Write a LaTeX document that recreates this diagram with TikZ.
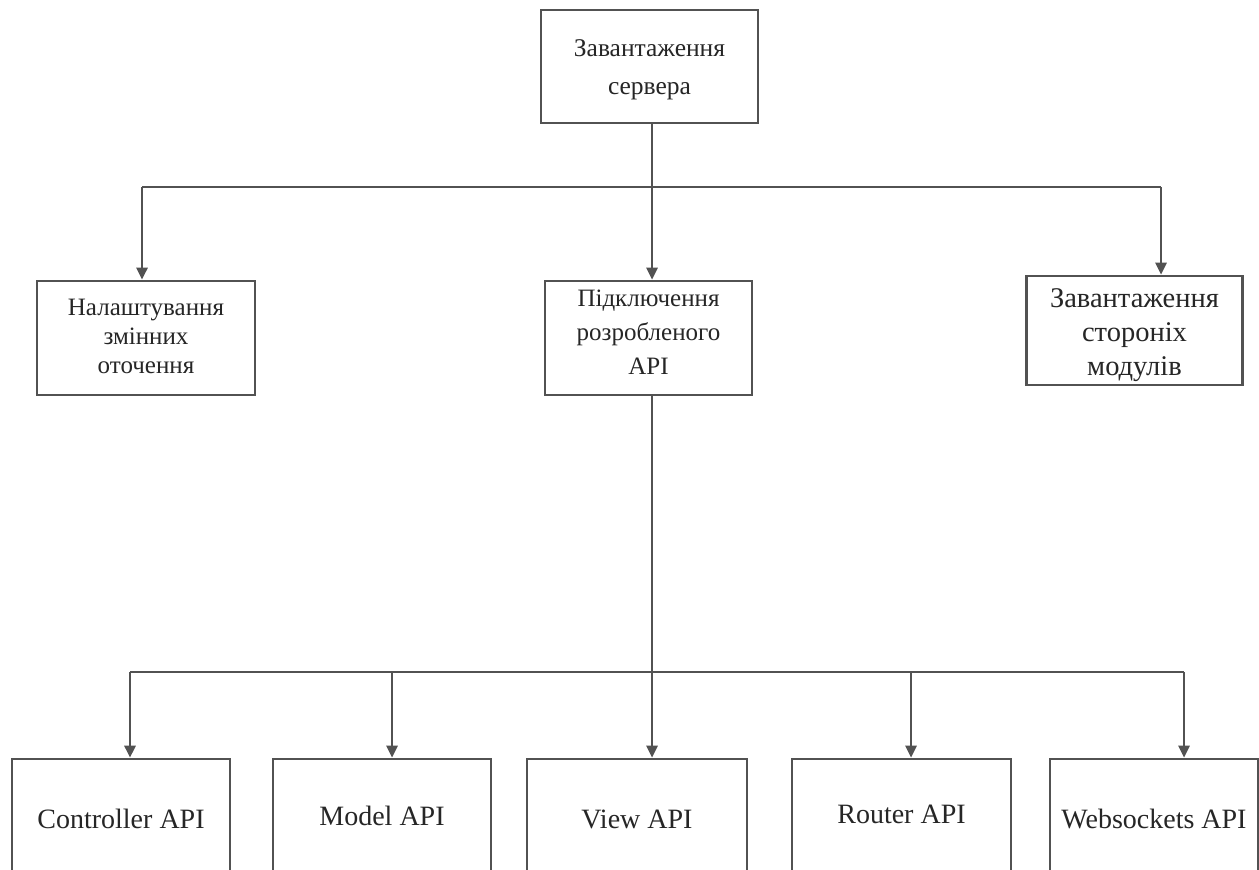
\documentclass[tikz,border=0pt]{standalone}
\usepackage{fontspec}
\setmainfont{Liberation Serif}
\usepackage{tikz}
\usetikzlibrary{positioning,calc,arrows.meta}
\tikzset{>={Triangle[length=12pt,width=11pt]}}
\tikzset{
  blok/.style={draw=black!68,line width=2.6pt,fill=white,inner sep=0pt},
  opis/.style={text=black!85,align=center,inner sep=0pt},
  link/.style={draw=black!68,line width=2.6pt},
}

\begin{document}
\begin{tikzpicture}[x=1pt,y=-1pt]
\useasboundingbox (0,0) rectangle (1259,870);
\clip (0,0) rectangle (1259,870);
\fill[white] (0,0) rectangle (1259,870);
% upper level
\node[blok,minimum width=217pt,minimum height=113pt,
  label={[opis,yshift=-3pt,font=\fontsize{25.5}{38}\selectfont]center:Завантаження\\сервера}] (server) at (649.5,66.5) {};
\node[blok,minimum width=218pt,minimum height=114pt,
  label={[opis,yshift=2pt,font=\fontsize{25}{29}\selectfont]center:Налаштування\\змінних\\оточення}] (env) at (146,338) {};
\node[blok,minimum width=207pt,minimum height=114pt,
  label={[opis,yshift=6pt,font=\fontsize{25}{34}\selectfont]center:Підключення\\розробленого\\API}] (api) at (648.5,338) {};
\node[blok,minimum width=216pt,minimum height=109pt,
  label={[opis,yshift=-5pt,font=\fontsize{28.5}{34}\selectfont]center:Завантаження\\стороніх\\модулів}] (mods) at (1134.5,330.5) {};
% lower level
\node[blok,minimum width=218pt,minimum height=120pt,
  label={[opis,font=\fontsize{28}{34}\selectfont]center:Controller API}] (ctrl) at (121,819) {};
\node[blok,minimum width=218pt,minimum height=120pt,
  label={[opis,yshift=3pt,font=\fontsize{28}{34}\selectfont]center:Model API}] (model) at (382,819) {};
\node[blok,minimum width=220pt,minimum height=120pt,
  label={[opis,font=\fontsize{28}{34}\selectfont]center:View API}] (view) at (637,819) {};
\node[blok,minimum width=219pt,minimum height=120pt,
  label={[opis,yshift=5pt,font=\fontsize{28}{34}\selectfont]center:Router API}] (router) at (901.5,819) {};
\node[blok,minimum width=208pt,minimum height=120pt,
  label={[opis,font=\fontsize{28}{34}\selectfont]center:Websockets API}] (ws) at (1154,819) {};

\coordinate (trunkA) at (652,187);
\coordinate (busA1) at (142,187);
\coordinate (busA3) at (1161,187);
\coordinate (trunkB) at (652,672);
\coordinate (busB1) at (130,672);
\coordinate (busB2) at (392,672);
\coordinate (busB4) at (911,672);
\coordinate (busB5) at (1184,672);

\draw[link] (server.south -| trunkA) -- (trunkA);
\draw[link] (busA1) -- (busA3);
\draw[link,->] (busA1) -- (busA1 |- env.north);
\draw[link,->] (trunkA) -- (trunkA |- api.north);
\draw[link,->] (busA3) -- (busA3 |- mods.north);

\draw[link] (api.south -| trunkB) -- (trunkB);
\draw[link] (busB1) -- (busB5);
\draw[link,->] (busB1) -- (busB1 |- ctrl.north);
\draw[link,->] (busB2) -- (busB2 |- model.north);
\draw[link,->] (trunkB) -- (trunkB |- view.north);
\draw[link,->] (busB4) -- (busB4 |- router.north);
\draw[link,->] (busB5) -- (busB5 |- ws.north);
\end{tikzpicture}
\end{document}
